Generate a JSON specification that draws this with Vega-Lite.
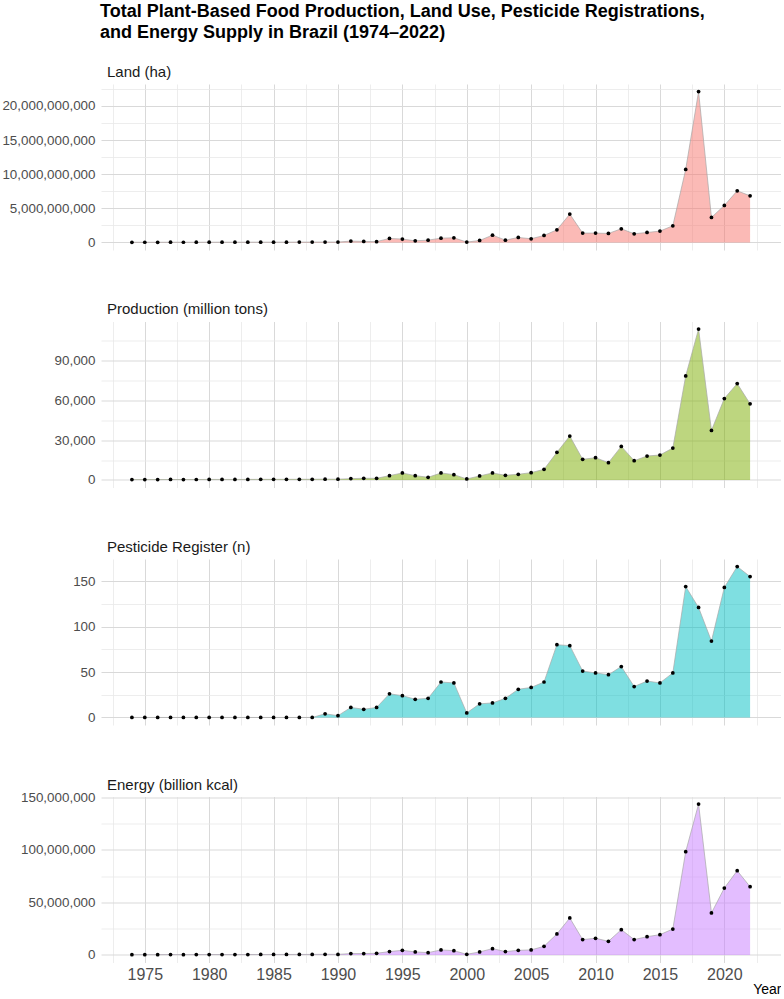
{
  "$schema": "https://vega.github.io/schema/vega-lite/v6.json",
  "autosize": {"type": "pad"},
  "padding": {"left": 1, "right": 0, "top": 3, "bottom": 0},
  "background": "white",
  "title": {
    "text": ["Total Plant-Based Food Production, Land Use, Pesticide Registrations,", "\u00a0and Energy Supply in Brazil (1974\u20132022)"],
    "anchor": "start",
    "frame": "group",
    "fontSize": 18,
    "fontWeight": "bold",
    "color": "#000000",
    "lineHeight": 21,
    "offset": 22.5,
    "dx": -1
  },
  "datasets": {
    "brazil": [
      {"Year": 1974, "Land": 25000000, "Production": 250, "Pesticide": 0, "Energy": 250000},
      {"Year": 1975, "Land": 30000000, "Production": 300, "Pesticide": 0, "Energy": 300000},
      {"Year": 1976, "Land": 28000000, "Production": 280, "Pesticide": 0, "Energy": 280000},
      {"Year": 1977, "Land": 35000000, "Production": 350, "Pesticide": 0, "Energy": 350000},
      {"Year": 1978, "Land": 30000000, "Production": 320, "Pesticide": 0, "Energy": 300000},
      {"Year": 1979, "Land": 32000000, "Production": 340, "Pesticide": 0, "Energy": 330000},
      {"Year": 1980, "Land": 40000000, "Production": 400, "Pesticide": 0, "Energy": 400000},
      {"Year": 1981, "Land": 38000000, "Production": 380, "Pesticide": 0, "Energy": 380000},
      {"Year": 1982, "Land": 36000000, "Production": 360, "Pesticide": 0, "Energy": 360000},
      {"Year": 1983, "Land": 42000000, "Production": 420, "Pesticide": 0, "Energy": 420000},
      {"Year": 1984, "Land": 45000000, "Production": 450, "Pesticide": 0, "Energy": 450000},
      {"Year": 1985, "Land": 44000000, "Production": 440, "Pesticide": 0, "Energy": 440000},
      {"Year": 1986, "Land": 48000000, "Production": 480, "Pesticide": 0, "Energy": 480000},
      {"Year": 1987, "Land": 50000000, "Production": 500, "Pesticide": 0, "Energy": 500000},
      {"Year": 1988, "Land": 52000000, "Production": 520, "Pesticide": 0, "Energy": 520000},
      {"Year": 1989, "Land": 60000000, "Production": 600, "Pesticide": 4, "Energy": 600000},
      {"Year": 1990, "Land": 55000000, "Production": 560, "Pesticide": 2, "Energy": 550000},
      {"Year": 1991, "Land": 200000000, "Production": 1000, "Pesticide": 11, "Energy": 1300000},
      {"Year": 1992, "Land": 150000000, "Production": 1250, "Pesticide": 9, "Energy": 1300000},
      {"Year": 1993, "Land": 120000000, "Production": 1250, "Pesticide": 11, "Energy": 1600000},
      {"Year": 1994, "Land": 590000000, "Production": 3250, "Pesticide": 26, "Energy": 3200000},
      {"Year": 1995, "Land": 490000000, "Production": 5250, "Pesticide": 24, "Energy": 4400000},
      {"Year": 1996, "Land": 240000000, "Production": 3250, "Pesticide": 20, "Energy": 2900000},
      {"Year": 1997, "Land": 340000000, "Production": 2000, "Pesticide": 21, "Energy": 2200000},
      {"Year": 1998, "Land": 630000000, "Production": 5250, "Pesticide": 39, "Energy": 4800000},
      {"Year": 1999, "Land": 680000000, "Production": 4000, "Pesticide": 38, "Energy": 4100000},
      {"Year": 2000, "Land": 50000000, "Production": 750, "Pesticide": 5, "Energy": 600000},
      {"Year": 2001, "Land": 290000000, "Production": 3000, "Pesticide": 15, "Energy": 2900000},
      {"Year": 2002, "Land": 1070000000, "Production": 5250, "Pesticide": 16, "Energy": 6000000},
      {"Year": 2003, "Land": 340000000, "Production": 3500, "Pesticide": 21, "Energy": 3200000},
      {"Year": 2004, "Land": 730000000, "Production": 4250, "Pesticide": 31, "Energy": 4400000},
      {"Year": 2005, "Land": 540000000, "Production": 5500, "Pesticide": 33, "Energy": 4800000},
      {"Year": 2006, "Land": 1020000000, "Production": 8000, "Pesticide": 39, "Energy": 8200000},
      {"Year": 2007, "Land": 1850000000, "Production": 20750, "Pesticide": 80, "Energy": 20000000},
      {"Year": 2008, "Land": 4150000000, "Production": 33000, "Pesticide": 79, "Energy": 35200000},
      {"Year": 2009, "Land": 1370000000, "Production": 15500, "Pesticide": 51, "Energy": 14600000},
      {"Year": 2010, "Land": 1370000000, "Production": 16750, "Pesticide": 49, "Energy": 15900000},
      {"Year": 2011, "Land": 1320000000, "Production": 13000, "Pesticide": 47, "Energy": 13000000},
      {"Year": 2012, "Land": 2000000000, "Production": 25250, "Pesticide": 56, "Energy": 24100000},
      {"Year": 2013, "Land": 1270000000, "Production": 14500, "Pesticide": 34, "Energy": 14600000},
      {"Year": 2014, "Land": 1460000000, "Production": 18000, "Pesticide": 40, "Energy": 17400000},
      {"Year": 2015, "Land": 1660000000, "Production": 18750, "Pesticide": 38, "Energy": 19300000},
      {"Year": 2016, "Land": 2440000000, "Production": 24000, "Pesticide": 49, "Energy": 24700000},
      {"Year": 2017, "Land": 10690000000, "Production": 78250, "Pesticide": 144, "Energy": 98300000},
      {"Year": 2018, "Land": 22100000000, "Production": 113500, "Pesticide": 121, "Energy": 143700000},
      {"Year": 2019, "Land": 3660000000, "Production": 37250, "Pesticide": 84, "Energy": 40000000},
      {"Year": 2020, "Land": 5420000000, "Production": 61250, "Pesticide": 143, "Energy": 63700000},
      {"Year": 2021, "Land": 7560000000, "Production": 72500, "Pesticide": 166, "Energy": 80200000},
      {"Year": 2022, "Land": 6830000000, "Production": 57250, "Pesticide": 155, "Energy": 65000000}
    ]
  },
  "data": {"name": "brazil"},
  "bounds": "flush",
  "spacing": 71.5,
  "vconcat": [
    {
      "width": 680,
      "height": 166,
      "title": {"text": "Land (ha)", "anchor": "start", "frame": "group", "fontSize": 15, "fontWeight": "normal", "color": "#1a1a1a", "baseline": "alphabetic", "offset": -7.8, "dx": 6},
      "encoding": {
        "x": {"field": "Year", "type": "quantitative", "scale": {"domain": [1971.6, 2024.4], "nice": false, "zero": false},
          "axis": {"values": [1972.5, 1975, 1977.5, 1980, 1982.5, 1985, 1987.5, 1990, 1992.5, 1995, 1997.5, 2000, 2002.5, 2005, 2007.5, 2010, 2012.5, 2015, 2017.5, 2020, 2022.5],
            "labels": false, "title": null,
            "gridColor": {"condition": {"test": "datum.value % 5 === 0", "value": "#d9d9d9"}, "value": "#e8e8e8"},
            "gridWidth": {"condition": {"test": "datum.value % 5 === 0", "value": 1}, "value": 0.8}}},
        "y": {"field": "Land", "type": "quantitative", "scale": {"domain": [-1105000000, 23205000000], "nice": false, "zero": false},
          "axis": {"values": [0, 2500000000, 5000000000, 7500000000, 10000000000, 12500000000, 15000000000, 17500000000, 20000000000, 22500000000],
            "format": ",.0f", "title": null,
            "labelExpr": "datum.value % 5000000000 === 0 ? datum.label : ''",
            "gridColor": {"condition": {"test": "datum.value % 5000000000 === 0", "value": "#d9d9d9"}, "value": "#e8e8e8"},
            "gridWidth": {"condition": {"test": "datum.value % 5000000000 === 0", "value": 1}, "value": 0.8}}}
      },
      "layer": [
        {"mark": {"type": "area", "color": "#F8766D", "fillOpacity": 0.5}, "encoding": {"y2": {"datum": 0}}},
        {"mark": {"type": "line", "color": "#a8a8a8", "strokeWidth": 0.7}},
        {"mark": {"type": "circle", "color": "#000000", "size": 14, "opacity": 1}}
      ]
    },
    {
      "width": 680,
      "height": 166,
      "title": {"text": "Production (million tons)", "anchor": "start", "frame": "group", "fontSize": 15, "fontWeight": "normal", "color": "#1a1a1a", "baseline": "alphabetic", "offset": -7.8, "dx": 6},
      "encoding": {
        "x": {"field": "Year", "type": "quantitative", "scale": {"domain": [1971.6, 2024.4], "nice": false, "zero": false},
          "axis": {"values": [1972.5, 1975, 1977.5, 1980, 1982.5, 1985, 1987.5, 1990, 1992.5, 1995, 1997.5, 2000, 2002.5, 2005, 2007.5, 2010, 2012.5, 2015, 2017.5, 2020, 2022.5],
            "labels": false, "title": null,
            "gridColor": {"condition": {"test": "datum.value % 5 === 0", "value": "#d9d9d9"}, "value": "#e8e8e8"},
            "gridWidth": {"condition": {"test": "datum.value % 5 === 0", "value": 1}, "value": 0.8}}},
        "y": {"field": "Production", "type": "quantitative", "scale": {"domain": [-5675, 119175], "nice": false, "zero": false},
          "axis": {"values": [0, 15000, 30000, 45000, 60000, 75000, 90000, 105000],
            "format": ",.0f", "title": null,
            "labelExpr": "datum.value % 30000 === 0 ? datum.label : ''",
            "gridColor": {"condition": {"test": "datum.value % 30000 === 0", "value": "#d9d9d9"}, "value": "#e8e8e8"},
            "gridWidth": {"condition": {"test": "datum.value % 30000 === 0", "value": 1}, "value": 0.8}}}
      },
      "layer": [
        {"mark": {"type": "area", "color": "#7CAE00", "fillOpacity": 0.5}, "encoding": {"y2": {"datum": 0}}},
        {"mark": {"type": "line", "color": "#a8a8a8", "strokeWidth": 0.7}},
        {"mark": {"type": "circle", "color": "#000000", "size": 14, "opacity": 1}}
      ]
    },
    {
      "width": 680,
      "height": 166,
      "title": {"text": "Pesticide Register (n)", "anchor": "start", "frame": "group", "fontSize": 15, "fontWeight": "normal", "color": "#1a1a1a", "baseline": "alphabetic", "offset": -7.8, "dx": 6},
      "encoding": {
        "x": {"field": "Year", "type": "quantitative", "scale": {"domain": [1971.6, 2024.4], "nice": false, "zero": false},
          "axis": {"values": [1972.5, 1975, 1977.5, 1980, 1982.5, 1985, 1987.5, 1990, 1992.5, 1995, 1997.5, 2000, 2002.5, 2005, 2007.5, 2010, 2012.5, 2015, 2017.5, 2020, 2022.5],
            "labels": false, "title": null,
            "gridColor": {"condition": {"test": "datum.value % 5 === 0", "value": "#d9d9d9"}, "value": "#e8e8e8"},
            "gridWidth": {"condition": {"test": "datum.value % 5 === 0", "value": 1}, "value": 0.8}}},
        "y": {"field": "Pesticide", "type": "quantitative", "scale": {"domain": [-8.3, 174.3], "nice": false, "zero": false},
          "axis": {"values": [0, 25, 50, 75, 100, 125, 150],
            "format": ",.0f", "title": null,
            "labelExpr": "datum.value % 50 === 0 ? datum.label : ''",
            "gridColor": {"condition": {"test": "datum.value % 50 === 0", "value": "#d9d9d9"}, "value": "#e8e8e8"},
            "gridWidth": {"condition": {"test": "datum.value % 50 === 0", "value": 1}, "value": 0.8}}}
      },
      "layer": [
        {"mark": {"type": "area", "color": "#00BFC4", "fillOpacity": 0.5}, "encoding": {"y2": {"datum": 0}}},
        {"mark": {"type": "line", "color": "#a8a8a8", "strokeWidth": 0.7}},
        {"mark": {"type": "circle", "color": "#000000", "size": 14, "opacity": 1}}
      ]
    },
    {
      "width": 680,
      "height": 166,
      "title": {"text": "Energy (billion kcal)", "anchor": "start", "frame": "group", "fontSize": 15, "fontWeight": "normal", "color": "#1a1a1a", "baseline": "alphabetic", "offset": -14.3, "dx": 6},
      "encoding": {
        "x": {"field": "Year", "type": "quantitative", "scale": {"domain": [1971.6, 2024.4], "nice": false, "zero": false},
          "axis": {"values": [1972.5, 1975, 1977.5, 1980, 1982.5, 1985, 1987.5, 1990, 1992.5, 1995, 1997.5, 2000, 2002.5, 2005, 2007.5, 2010, 2012.5, 2015, 2017.5, 2020, 2022.5],
            "format": "d",
            "labelExpr": "datum.value % 5 === 0 ? datum.label : ''",
            "labelFontSize": 16, "labelPadding": 4,
            "title": "Year", "titleAnchor": "end", "titleFontSize": 14, "titleFontWeight": "normal", "titleColor": "#000000", "titlePadding": 0,
            "gridColor": {"condition": {"test": "datum.value % 5 === 0", "value": "#d9d9d9"}, "value": "#e8e8e8"},
            "gridWidth": {"condition": {"test": "datum.value % 5 === 0", "value": 1}, "value": 0.8}}},
        "y": {"field": "Energy", "type": "quantitative", "scale": {"domain": [-7185000, 150885000], "nice": false, "zero": false},
          "axis": {"values": [0, 25000000, 50000000, 75000000, 100000000, 125000000, 150000000],
            "format": ",.0f", "title": null,
            "labelExpr": "datum.value % 50000000 === 0 ? datum.label : ''",
            "gridColor": {"condition": {"test": "datum.value % 50000000 === 0", "value": "#d9d9d9"}, "value": "#e8e8e8"},
            "gridWidth": {"condition": {"test": "datum.value % 50000000 === 0", "value": 1}, "value": 0.8}}}
      },
      "layer": [
        {"mark": {"type": "area", "color": "#C77CFF", "fillOpacity": 0.5}, "encoding": {"y2": {"datum": 0}}},
        {"mark": {"type": "line", "color": "#a8a8a8", "strokeWidth": 0.7}},
        {"mark": {"type": "circle", "color": "#000000", "size": 14, "opacity": 1}}
      ]
    }
  ],
  "config": {
    "font": "Liberation Sans",
    "view": {"stroke": null},
    "axis": {"domain": false, "ticks": false, "tickSize": 0, "labelColor": "#4d4d4d", "labelFontSize": 13.4, "labelPadding": 6, "labelFont": "Liberation Sans", "titleFont": "Liberation Sans"},
    "title": {"font": "Liberation Sans", "subtitleFont": "Liberation Sans"}
  }
}
